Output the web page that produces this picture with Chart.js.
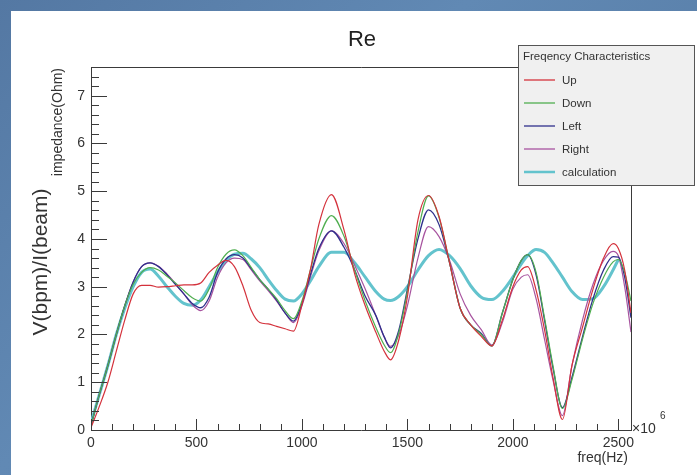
<!DOCTYPE html>
<html>
<head>
<meta charset="utf-8">
<script src="https://cdn.jsdelivr.net/npm/chart.js@4.4.1/dist/chart.umd.min.js"></script>
<style>
  html, body { margin:0; padding:0; }
  body { width:697px; height:475px; overflow:hidden; position:relative;
         background: linear-gradient(135deg, #5478a3 0%, #6189b4 40%, #52769f 100%); }
  #c { position:absolute; left:11px; top:11px; background:#ffffff; }
</style>
</head>
<body>
<canvas id="c" width="686" height="464"></canvas>
<script>
// ---- data (frequency in units of 10^6 Hz, impedance in Ohm) ----
const freq = [0,40,80,120,160,200,240,280,320,360,400,440,480,520,560,600,640,680,720,760,800,840,880,920,960,1000,1040,1080,1140,1200,1250,1300,1350,1390,1420,1460,1500,1550,1600,1650,1700,1750,1800,1850,1900,1950,2000,2040,2070,2110,2150,2190,2235,2280,2330,2380,2430,2475,2500,2530,2560];
const up    = [0.05,0.5,1.0,1.65,2.3,2.85,3.03,3.03,2.99,3.0,3.02,3.04,3.04,3.08,3.3,3.45,3.55,3.42,3.02,2.5,2.25,2.22,2.17,2.12,2.07,2.62,3.35,4.3,4.93,4.18,3.27,2.6,2.05,1.65,1.47,1.9,2.79,4.4,4.91,4.47,3.5,2.55,2.2,1.96,1.76,2.3,3.0,3.35,3.42,2.93,2.1,1.1,0.22,1.35,2.15,2.95,3.6,3.9,3.8,3.35,2.45];
const down  = [0.1,0.75,1.35,2.0,2.6,3.05,3.3,3.4,3.35,3.22,3.08,2.92,2.77,2.7,2.95,3.4,3.68,3.77,3.65,3.4,3.15,2.95,2.75,2.5,2.33,2.7,3.35,4.0,4.49,4.05,3.35,2.7,2.15,1.78,1.62,2.05,2.9,4.15,4.9,4.45,3.5,2.55,2.2,2.0,1.76,2.45,3.15,3.55,3.67,3.3,2.35,1.35,0.45,1.05,1.9,2.65,3.2,3.52,3.57,3.3,2.7];
const left  = [0.1,0.75,1.35,2.0,2.6,3.1,3.42,3.5,3.42,3.25,3.05,2.85,2.65,2.56,2.78,3.3,3.58,3.67,3.6,3.38,3.15,2.95,2.72,2.45,2.28,2.65,3.25,3.8,4.17,3.82,3.35,2.8,2.4,1.95,1.72,2.1,2.95,4.0,4.61,4.3,3.5,2.55,2.2,2.02,1.76,2.45,3.15,3.55,3.67,3.25,2.3,1.3,0.47,1.1,1.95,2.75,3.35,3.63,3.62,3.2,2.35];
const right = [0.1,0.75,1.35,2.0,2.6,3.1,3.42,3.5,3.43,3.27,3.07,2.85,2.62,2.5,2.7,3.2,3.5,3.6,3.57,3.35,3.12,2.92,2.7,2.45,2.25,2.6,3.2,3.75,4.17,3.9,3.45,2.95,2.4,1.95,1.75,2.0,2.6,3.6,4.26,4.05,3.55,2.85,2.4,2.1,1.78,2.25,2.95,3.2,3.25,2.75,1.9,1.05,0.3,1.35,2.3,3.05,3.55,3.74,3.65,3.0,2.05];
const calc  = [0.15,0.75,1.35,2.0,2.55,3.0,3.3,3.37,3.22,3.0,2.8,2.65,2.61,2.72,3.0,3.3,3.55,3.68,3.7,3.58,3.4,3.15,2.92,2.74,2.7,2.85,3.12,3.42,3.72,3.72,3.5,3.2,2.9,2.74,2.71,2.8,3.0,3.35,3.65,3.78,3.65,3.38,3.02,2.78,2.73,2.9,3.2,3.48,3.65,3.78,3.72,3.5,3.2,2.9,2.73,2.75,3.0,3.35,3.57,null,null];

const seriesNames  = ['Up','Down','Left','Right','calculation'];
const seriesValues = [up, down, left, right, calc];
const seriesColors = ['#d4323c','#4fae4f','#2f2f8c','#a7539f','#63c3cd'];
const seriesWidths = [1.2,1.2,1.3,1.2,3];

const xTickValues = [0,500,1000,1500,2000,2500];
const yTickValues = [0,1,2,3,4,5,6,7];

const chartTitle = 'Re';
const xTitle = 'freq(Hz)';
const yTitleMain = 'V(bpm)/I(beam)';
const yTitleSub = 'impedance(Ohm)';
const legendTitle = 'Freqency Characteristics';
const xMax = 2560, yMax = 7.6;

const FONT = '"Liberation Sans", Arial, Helvetica, sans-serif';

const datasets = seriesNames.map((name, i) => ({
  label: name,
  data: freq.map((f, k) => ({ x: f, y: seriesValues[i][k] })).filter(p => p.y !== null),
  borderColor: seriesColors[i],
  backgroundColor: seriesColors[i],
  borderWidth: seriesWidths[i],
  pointRadius: 0,
  fill: false,
  cubicInterpolationMode: 'monotone'
}));

const extras = {
  id: 'extras',
  afterDraw(chart) {
    const { ctx, chartArea: a, scales: { x, y } } = chart;
    ctx.save();
    ctx.strokeStyle = '#3a3a3a';
    ctx.lineWidth = 1;
    ctx.beginPath();
    for (let v = 0; v <= xMax; v += 100) {
      const px = Math.round(x.getPixelForValue(v)) + 0.5;
      const len = (v % 500 === 0) ? 11 : 6;
      ctx.moveTo(px, a.bottom);
      ctx.lineTo(px, a.bottom - len);
    }
    for (let k = 0; k <= 38; k++) {
      const py = Math.round(y.getPixelForValue(k / 5)) + 0.5;
      const len = (k % 5 === 0) ? 16 : 8;
      ctx.moveTo(a.left, py);
      ctx.lineTo(a.left + len, py);
    }
    ctx.moveTo(a.left, Math.round(a.top) + 0.5);
    ctx.lineTo(Math.round(a.right) + 0.5, Math.round(a.top) + 0.5);
    ctx.lineTo(Math.round(a.right) + 0.5, a.bottom);
    ctx.stroke();

    // title
    ctx.fillStyle = '#222';
    ctx.font = '22px ' + FONT;
    ctx.textAlign = 'center';
    ctx.textBaseline = 'alphabetic';
    ctx.fillText(chartTitle, 351, 35);

    // y titles
    ctx.save();
    ctx.translate(36, 251);
    ctx.rotate(-Math.PI / 2);
    ctx.font = '21px ' + FONT;
    ctx.textAlign = 'center';
    ctx.fillStyle = '#333';
    ctx.fillText(yTitleMain, 0, 0);
    ctx.restore();
    ctx.save();
    ctx.translate(51, 57);
    ctx.rotate(-Math.PI / 2);
    ctx.font = '14px ' + FONT;
    ctx.textAlign = 'right';
    ctx.fillStyle = '#333';
    ctx.fillText(yTitleSub, 0, 0);
    ctx.restore();

    // x title and exponent
    ctx.font = '14px ' + FONT;
    ctx.fillStyle = '#333';
    ctx.textAlign = 'right';
    ctx.fillText(xTitle, 617, 451);
    ctx.textAlign = 'left';
    ctx.fillText('\u00d710', 621, 422);
    ctx.font = '10px ' + FONT;
    ctx.fillText('6', 649, 408);

    // legend box
    const lx = 507.5, ly = 34.5, lw = 176, lh = 140;
    ctx.fillStyle = '#f0f0f0';
    ctx.fillRect(lx, ly, lw, lh);
    ctx.strokeStyle = '#555';
    ctx.lineWidth = 1;
    ctx.strokeRect(lx, ly, lw, lh);
    ctx.fillStyle = '#333';
    ctx.font = '11.5px ' + FONT;
    ctx.textAlign = 'left';
    ctx.textBaseline = 'middle';
    ctx.fillText(legendTitle, 512, 46);
    seriesNames.forEach((name, i) => {
      const yy = 69 + i * 23;
      ctx.strokeStyle = seriesColors[i];
      ctx.lineWidth = i === 4 ? 2.5 : 1.3;
      ctx.beginPath();
      ctx.moveTo(513, yy);
      ctx.lineTo(544, yy);
      ctx.stroke();
      ctx.fillStyle = '#333';
      ctx.fillText(name, 551, yy + 0.5);
    });
    ctx.restore();
  }
};

new Chart(document.getElementById('c'), {
  type: 'line',
  data: { datasets },
  options: {
    responsive: false,
    animation: false,
    devicePixelRatio: 1,
    layout: { padding: { left: 0, top: 56, right: 66, bottom: 0 } },
    plugins: { legend: { display: false }, title: { display: false }, tooltip: { enabled: false } },
    scales: {
      x: {
        type: 'linear', min: 0, max: xMax,
        grid: { display: false, drawTicks: false },
        border: { display: true, color: '#3a3a3a', width: 1 },
        ticks: {
          padding: 5, color: '#333', font: { size: 14, family: FONT },
          maxRotation: 0, minRotation: 0, autoSkip: false,
          callback: v => String(v)
        },
        afterBuildTicks: s => { s.ticks = xTickValues.map(v => ({ value: v })); },
        afterFit: s => { s.height = 45; }
      },
      y: {
        type: 'linear', min: 0, max: yMax,
        grid: { display: false, drawTicks: false },
        border: { display: true, color: '#3a3a3a', width: 1 },
        ticks: {
          padding: 6, color: '#333', font: { size: 14, family: FONT }, autoSkip: false,
          callback: v => String(v)
        },
        afterBuildTicks: s => { s.ticks = yTickValues.map(v => ({ value: v })); },
        afterFit: s => { s.width = 80; }
      }
    }
  },
  plugins: [extras]
});
</script>
</body>
</html>
